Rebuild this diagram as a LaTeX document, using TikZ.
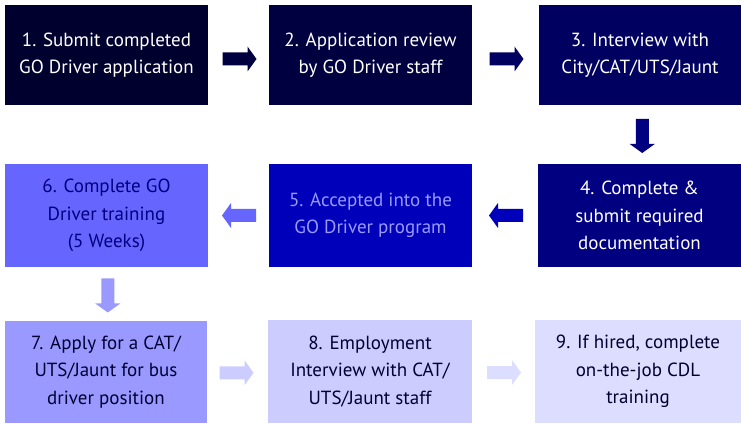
\documentclass[tikz,border=0pt]{standalone}
\usepackage{fontspec}
\setmainfont{PT Sans}
\usetikzlibrary{calc}

\definecolor{stepA}{HTML}{00002E}
\definecolor{stepB}{HTML}{000040}
\definecolor{stepC}{HTML}{000060}
\definecolor{stepD}{HTML}{000080}
\definecolor{stepE}{HTML}{0000BB}
\definecolor{stepF}{HTML}{6666FF}
\definecolor{stepG}{HTML}{9999FF}
\definecolor{stepH}{HTML}{CCCCFF}
\definecolor{stepI}{HTML}{DDDDFF}
\definecolor{darktext}{HTML}{000033}

\tikzset{
  stepbox/.style={rectangle, minimum width=203pt, inner sep=0pt, align=center,
    font=\fontsize{19}{27.5}\selectfont, text=white},
  pics/blockarrow/.style={code={
    \fill[#1] (-17,-6.5) -- (8,-6.5) -- (8,-12.5) -- (17,0) -- (8,12.5) -- (8,6.5) -- (-17,6.5) -- cycle;
  }}
}

\begin{document}
\begin{tikzpicture}[x=1pt,y=1pt]
    \useasboundingbox (0,0) rectangle (741,423);

    % first row
    \node[stepbox, fill=stepA, minimum height=100pt] (s1) at (106.5,368) {1. Submit completed\\GO Driver application};
    \node[stepbox, fill=stepB, minimum height=100pt] (s2) at (370.5,368) {2. Application review\\by GO Driver staff};
    \node[stepbox, fill=stepC, minimum height=100pt, minimum width=202pt] (s3) at (640,368) {3. Interview with\\City/CAT/UTS/Jaunt};

    % second row
    \node[stepbox, fill=stepD, minimum height=103pt] (s4) at (639.5,207.5) {4. Complete \&\\submit required\\documentation};
    \node[stepbox, fill=stepE, minimum height=103pt, text=stepG] (s5) at (370.5,207.5) {5. Accepted into the\\GO Driver program};
    \node[stepbox, fill=stepF, minimum height=103pt, text=stepD] (s6) at (106.5,207.5) {6. Complete GO\\Driver training\\(5 Weeks)};

    % third row
    \node[stepbox, fill=stepG, minimum height=102pt, minimum width=202pt, text=darktext] (s7) at (106,51) {7. Apply for a CAT/\\UTS/Jaunt for bus\\driver position};
    \node[stepbox, fill=stepH, minimum height=103pt, minimum width=204pt, text=darktext] (s8) at (370,51.5) {8. Employment\\Interview with CAT/\\UTS/Jaunt staff};
    \node[stepbox, fill=stepI, minimum height=103pt, minimum width=206pt, text=darktext] (s9) at (638,51.5) {9. If hired, complete\\on-the-job CDL\\training};

    % arrows between the steps
    \pic at ($(s1.east)!.5!(s2.west)+(1,-4)$) {blockarrow=stepB};
    \pic at ($(s2.east)!.5!(s3.west)+(1,-4)$) {blockarrow=stepC};
    \pic[rotate=-90] at ($(s3.south)!.5!(s4.north)+(2.5,-1.5)$) {blockarrow=stepD};
    \pic[rotate=180] at ($(s4.west)!.5!(s5.east)+(1,0)$) {blockarrow=stepE};
    \pic[rotate=180] at ($(s5.west)!.5!(s6.east)+(0.5,0)$) {blockarrow=stepF};
    \pic[rotate=-90] at ($(s6.south)!.5!(s7.north)+(1.5,-1.5)$) {blockarrow=stepG};
    \pic at ($(s7.east)!.5!(s8.west)+(-1,-1)$) {blockarrow=stepH};
    \pic at ($(s8.east)!.5!(s9.west)+(0.5,-1)$) {blockarrow=stepI};

\end{tikzpicture}
\end{document}
